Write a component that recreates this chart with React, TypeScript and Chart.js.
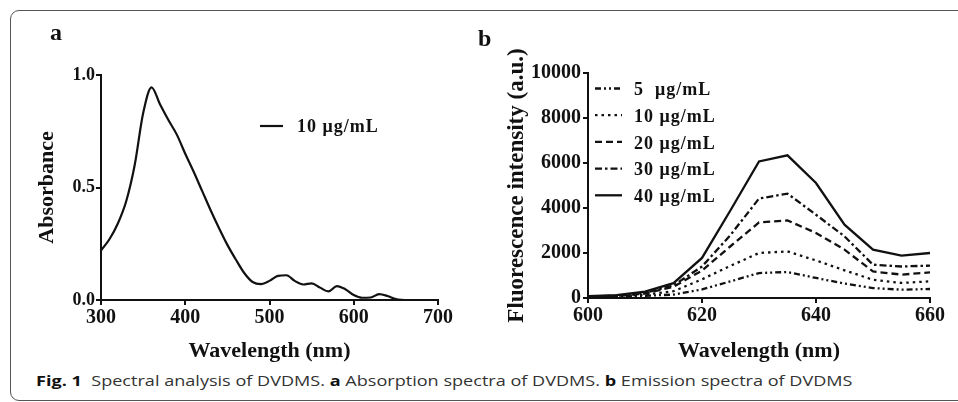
import React, { useEffect, useRef } from "react";
import { Chart, registerables } from "chart.js";

Chart.register(...registerables);

// ---------- Panel a: absorption spectrum ----------
const absWavelengths = [
  300, 310, 320, 330, 340, 350, 360, 370, 380, 390, 400, 410, 420, 430, 440, 450, 460, 470, 480,
  490, 500, 510, 520, 530, 540, 550, 560, 570, 580, 590, 600, 610, 620, 630, 640, 650, 660,
];
const absValues = [
  0.22, 0.27, 0.34, 0.44, 0.6, 0.83, 0.945, 0.87, 0.8, 0.735, 0.65, 0.57, 0.485, 0.4, 0.32, 0.245,
  0.18, 0.12, 0.08, 0.071, 0.085, 0.107, 0.11, 0.085, 0.069, 0.074, 0.055, 0.038, 0.062, 0.048,
  0.022, 0.01, 0.011, 0.026, 0.018, 0.004, 0.0,
];
const absLabel = "10 μg/mL";
const absXTicks = [300, 400, 500, 600, 700];
const absYTicks = [0, 0.5, 1.0];

// ---------- Panel b: emission spectra ----------
const emWavelengths = [600, 605, 610, 615, 620, 625, 630, 635, 640, 645, 650, 655, 660];
const em5 = [30, 50, 100, 150, 380, 740, 1110, 1155, 890, 640, 440, 370, 400];
const em10 = [40, 70, 150, 300, 830, 1430, 2000, 2070, 1670, 1230, 810, 670, 740];
const em20 = [50, 90, 200, 500, 1220, 2300, 3360, 3450, 2890, 2150, 1180, 1040, 1140];
const em30 = [60, 100, 230, 560, 1400, 2800, 4420, 4640, 3700, 2740, 1480, 1400, 1440];
const em40 = [80, 130, 280, 660, 1780, 3900, 6070, 6340, 5110, 3260, 2150, 1880, 2000];
const emLabels = ["5  μg/mL", "10 μg/mL", "20 μg/mL", "30 μg/mL", "40 μg/mL"];
const emXTicks = [600, 620, 640, 660];
const emYTicks = [0, 2000, 4000, 6000, 8000, 10000];

const SERIF = "'Liberation Serif', 'Times New Roman', serif";
const INK = "#111111";
const TICK_LEN = 5;
const AXIS_W = 2;

// in-plot legend, positioned relative to the chart area
function inlineLegend(cfg: {
  x: number;
  y: number;
  rowGap: number;
  lineLen: number;
  textGap: number;
  textDy: number;
  font: string;
}) {
  return {
    id: "inlineLegend",
    afterDatasetsDraw(chart: any) {
      const ctx = chart.ctx as CanvasRenderingContext2D;
      const area = chart.chartArea;
      chart.data.datasets.forEach((ds: any, i: number) => {
        const y = area.top + cfg.y + i * cfg.rowGap;
        const x0 = area.left + cfg.x;
        ctx.save();
        ctx.strokeStyle = ds.borderColor;
        ctx.lineWidth = ds.borderWidth;
        ctx.setLineDash(ds.borderDash || []);
        ctx.beginPath();
        ctx.moveTo(x0, y);
        ctx.lineTo(x0 + cfg.lineLen, y);
        ctx.stroke();
        ctx.setLineDash([]);
        ctx.fillStyle = INK;
        ctx.font = cfg.font;
        (ctx as any).letterSpacing = "1px";
        ctx.textBaseline = "middle";
        ctx.textAlign = "left";
        ctx.fillText(ds.label, x0 + cfg.lineLen + cfg.textGap, y + cfg.textDy);
        ctx.restore();
      });
    },
  };
}

function axisStyle(opts: {
  min: number;
  max: number;
  ticks: number[];
  tickSize: number;
  fmt: (v: number) => string;
  title: string;
  titleSize: number;
  titlePad: any;
  fitSize: number;
  horizontal: boolean;
  tickPad: number;
}) {
  return {
    type: "linear",
    min: opts.min,
    max: opts.max,
    afterBuildTicks: (s: any) => {
      s.ticks = opts.ticks.map((v) => ({ value: v }));
    },
    afterFit: (s: any) => {
      if (opts.horizontal) s.height = opts.fitSize;
      else s.width = opts.fitSize;
    },
    border: { display: true, color: INK, width: AXIS_W },
    grid: {
      display: true,
      drawOnChartArea: false,
      drawTicks: true,
      tickLength: TICK_LEN,
      tickColor: INK,
      tickWidth: AXIS_W,
      color: INK,
      lineWidth: AXIS_W,
    },
    ticks: {
      color: INK,
      padding: opts.tickPad,
      maxRotation: 0,
      autoSkip: false,
      font: { family: SERIF, size: opts.tickSize, weight: "bold" },
      callback: (v: any) => opts.fmt(Number(v)),
    },
    title: {
      display: true,
      text: opts.title,
      color: INK,
      padding: opts.titlePad,
      font: { family: SERIF, size: opts.titleSize, weight: "bold", lineHeight: 1.2 },
    },
  };
}

function PanelA() {
  const ref = useRef<HTMLCanvasElement>(null);
  useEffect(() => {
    const chart = new Chart(ref.current!, {
      type: "line",
      data: {
        datasets: [
          {
            label: absLabel,
            data: absWavelengths.map((x, i) => ({ x, y: absValues[i] })),
            borderColor: INK,
            borderWidth: 2.2,
            pointRadius: 0,
            cubicInterpolationMode: "monotone",
            fill: false,
          },
        ],
      },
      options: {
        responsive: false,
        animation: false,
        devicePixelRatio: 1,
        events: [],
        layout: { padding: { left: 0, top: 75, right: 32, bottom: 0 } },
        plugins: { legend: { display: false }, tooltip: { enabled: false } },
        scales: {
          x: axisStyle({
            min: absXTicks[0],
            max: absXTicks[absXTicks.length - 1],
            ticks: absXTicks,
            tickSize: 20,
            fmt: (v) => String(v),
            title: "Wavelength (nm)",
            titleSize: 22,
            titlePad: { top: 0, bottom: 5 },
            fitSize: 70,
            horizontal: true,
            tickPad: 1,
          }) as any,
          y: axisStyle({
            min: absYTicks[0],
            max: absYTicks[absYTicks.length - 1],
            ticks: absYTicks,
            tickSize: 18,
            fmt: (v) => v.toFixed(1),
            title: "Absorbance",
            titleSize: 22,
            titlePad: { top: 34, bottom: 0 },
            fitSize: 101,
            horizontal: false,
            tickPad: 1,
          }) as any,
        },
      },
      plugins: [
        inlineLegend({
          x: 159,
          y: 51,
          rowGap: 0,
          lineLen: 23,
          textGap: 14,
          textDy: 1.5,
          font: `bold 18px ${SERIF}`,
        }),
      ],
    } as any);
    return () => chart.destroy();
  }, []);
  return (
    <canvas
      ref={ref}
      width={470}
      height={370}
      style={{ position: "absolute", left: 0, top: 0, width: 470, height: 370 }}
    />
  );
}

function PanelB() {
  const ref = useRef<HTMLCanvasElement>(null);
  useEffect(() => {
    const series = [em5, em10, em20, em30, em40];
    const dashes = [[6, 3, 2, 3, 2, 3], [2.5, 4], [7, 4], [7, 3, 2.5, 3], []];
    const chart = new Chart(ref.current!, {
      type: "line",
      data: {
        datasets: series.map((vals, k) => ({
          label: emLabels[k],
          data: emWavelengths.map((x, i) => ({ x, y: vals[i] })),
          borderColor: INK,
          borderWidth: 2.3,
          borderDash: dashes[k],
          pointRadius: 0,
          tension: 0,
          fill: false,
        })),
      },
      options: {
        responsive: false,
        animation: false,
        devicePixelRatio: 1,
        events: [],
        layout: { padding: { left: 0, top: 73, right: 28, bottom: 0 } },
        plugins: { legend: { display: false }, tooltip: { enabled: false } },
        scales: {
          x: axisStyle({
            min: emXTicks[0],
            max: emXTicks[emXTicks.length - 1],
            ticks: emXTicks,
            tickSize: 20,
            fmt: (v) => String(v),
            title: "Wavelength (nm)",
            titleSize: 22,
            titlePad: { top: 0, bottom: 5 },
            fitSize: 72,
            horizontal: true,
            tickPad: 1,
          }) as any,
          y: axisStyle({
            min: emYTicks[0],
            max: emYTicks[emYTicks.length - 1],
            ticks: emYTicks,
            tickSize: 20,
            fmt: (v) => String(v),
            title: "Fluorescence intensity (a.u.)",
            titleSize: 23,
            titlePad: { top: 33, bottom: 0 },
            fitSize: 118,
            horizontal: false,
            tickPad: 2,
          }) as any,
        },
      },
      plugins: [
        inlineLegend({
          x: 7,
          y: 15.5,
          rowGap: 26.7,
          lineLen: 27,
          textGap: 12,
          textDy: 2,
          font: `bold 18px ${SERIF}`,
        }),
      ],
    } as any);
    return () => chart.destroy();
  }, []);
  return (
    <canvas
      ref={ref}
      width={488}
      height={370}
      style={{ position: "absolute", left: 470, top: 0, width: 488, height: 370 }}
    />
  );
}

export default function App() {
  const panelLabel: React.CSSProperties = {
    position: "absolute",
    fontFamily: SERIF,
    fontWeight: "bold",
    fontSize: 24,
    lineHeight: "24px",
    color: INK,
  };
  return (
    <div
      style={{
        position: "absolute",
        left: 0,
        top: 0,
        width: 958,
        height: 402,
        overflow: "hidden",
        background: "#fff",
      }}
    >
      <div
        style={{
          position: "absolute",
          left: 10,
          top: 10,
          width: 980,
          height: 391,
          boxSizing: "border-box",
          border: "1.5px solid #555",
          borderRadius: 9,
        }}
      />
      <PanelA />
      <PanelB />
      <div style={{ ...panelLabel, left: 50, top: 20 }}>a</div>
      <div style={{ ...panelLabel, left: 478, top: 26 }}>b</div>
      <div
        style={{
          position: "absolute",
          left: 36,
          top: 370,
          fontFamily: "'Open Sans', 'Noto Sans', sans-serif",
          fontSize: 15,
          lineHeight: "20px",
          color: "#333",
          whiteSpace: "pre",
          transform: "scaleX(1.205)",
          transformOrigin: "0 0",
        }}
      >
        <b style={{ color: "#111" }}>Fig. 1</b>
        {"  Spectral analysis of DVDMS. "}
        <b style={{ color: "#111" }}>a</b>
        {" Absorption spectra of DVDMS. "}
        <b style={{ color: "#111" }}>b</b>
        {" Emission spectra of DVDMS"}
      </div>
    </div>
  );
}
